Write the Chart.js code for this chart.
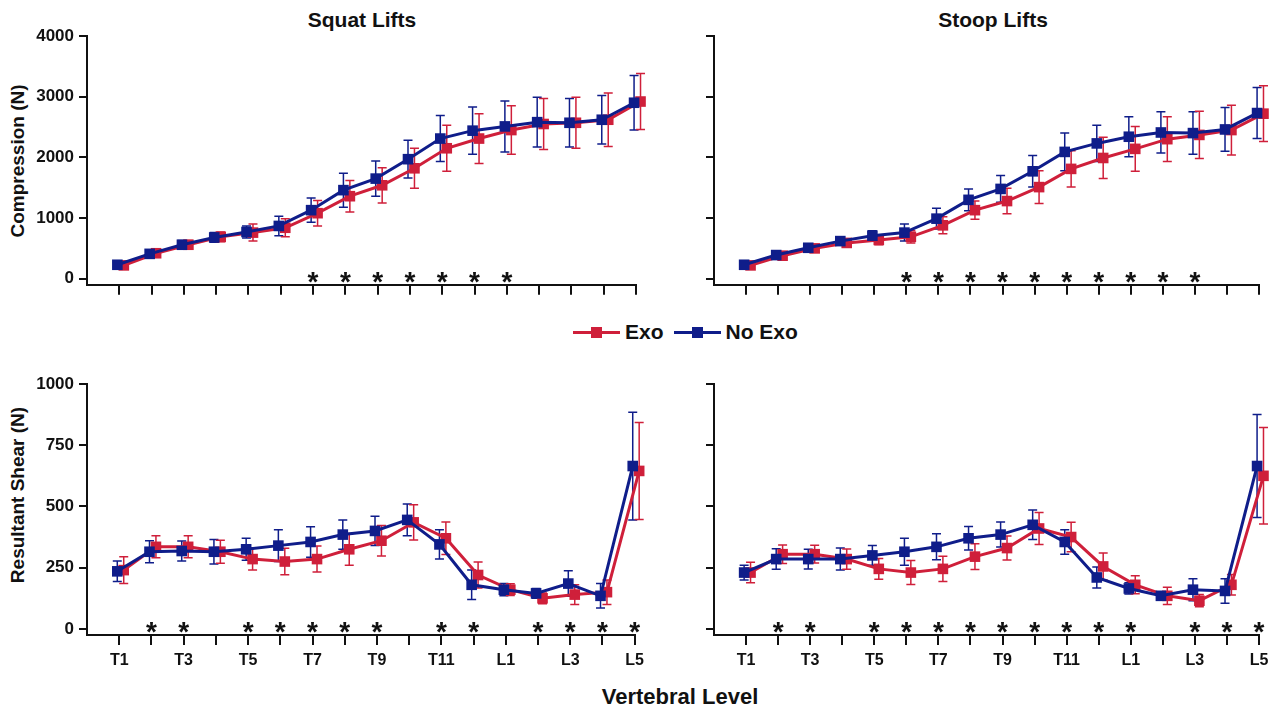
<!DOCTYPE html>
<html>
<head>
<meta charset="utf-8">
<script src="https://cdn.jsdelivr.net/npm/chart.js@4"></script>
<style>
  body { margin: 0; background: #fff; width: 1277px; height: 708px; position: relative; overflow: hidden;
         font-family: 'Liberation Sans', Arial, sans-serif; font-weight: bold; color: #111; }
  canvas { position: absolute; }
  .txt { position: absolute; white-space: nowrap; }
  .ytitle { position: absolute; white-space: nowrap; font-size: 19px; transform: translate(-50%, -50%) rotate(-90deg); }
  .legend { position: absolute; left: 573px; top: 320px; font-size: 21px; display: flex; align-items: center; }
  .mk { position: relative; display: inline-block; width: 47px; height: 3px; margin-right: 5px; }
  .mk i { position: absolute; left: 18px; top: -4px; width: 11px; height: 11px; }
</style>
</head>
<body>

<div class="txt" style="left:362px; top:20px; font-size:21px; transform:translate(-50%,-50%)">Squat Lifts</div>
<div class="txt" style="left:993px; top:20px; font-size:21px; transform:translate(-50%,-50%)">Stoop Lifts</div>
<div class="ytitle" style="left:18px; top:161px">Compression (N)</div>
<div class="ytitle" style="left:18px; top:495px">Resultant Shear (N)</div>
<div class="txt" style="left:680px; top:697px; font-size:22px; transform:translate(-50%,-50%)">Vertebral Level</div>

<div class="legend">
  <span class="mk" style="background:#cf1f3a"><i style="background:#cf1f3a"></i></span><span style="margin-right:10px">Exo</span>
  <span class="mk" style="background:#0f1d8a"><i style="background:#0f1d8a"></i></span><span>No Exo</span>
</div>

<canvas id="squatComp" width="650" height="300" style="left:0;top:0;width:650px;height:300px"></canvas>
<canvas id="stoopComp" width="627" height="300" style="left:650px;top:0;width:627px;height:300px"></canvas>
<canvas id="squatShear" width="650" height="340" style="left:0;top:340px;width:650px;height:340px"></canvas>
<canvas id="stoopShear" width="627" height="340" style="left:650px;top:340px;width:627px;height:340px"></canvas>

<script>
const levels = ['T1','T2','T3','T4','T5','T6','T7','T8','T9','T10','T11','T12','L1','L2','L3','L4','L5'];

const compTicks = [0, 1000, 2000, 3000, 4000];
const shearTicks = [0, 250, 500, 750, 1000];

// compression, squat
const squatCompExo = [220,420,560,690,760,840,1080,1360,1540,1820,2150,2310,2450,2550,2570,2620,2920];
const squatCompExoSD = [40,60,70,80,140,150,210,260,290,330,380,410,400,420,420,440,460];
const squatCompNoExo = [230,410,560,680,770,870,1130,1460,1650,1970,2310,2440,2510,2580,2570,2620,2900];
const squatCompNoExoSD = [40,60,70,80,100,160,200,280,290,310,380,390,420,410,400,400,450];

// compression, stoop
const stoopCompExo = [220,380,500,590,640,690,880,1130,1280,1510,1810,1990,2140,2300,2370,2450,2720];
const stoopCompExoSD = [40,50,60,70,80,100,140,150,210,270,300,340,370,370,390,410,460];
const stoopCompNoExo = [230,390,510,620,710,760,990,1300,1480,1770,2090,2230,2340,2410,2400,2460,2730];
const stoopCompNoExoSD = [40,50,60,70,80,140,170,180,220,260,310,300,330,340,350,360,420];

// resultant shear, squat
const squatShearExo = [240,335,335,315,285,275,285,325,360,435,370,220,160,125,140,150,645];
const squatShearExoSD = [55,45,45,47,45,54,53,65,62,72,66,53,24,22,40,50,198];
const squatShearNoExo = [235,315,318,315,325,340,355,385,400,445,345,180,160,145,185,135,665];
const squatShearNoExoSD = [42,45,41,50,45,65,62,60,60,65,60,60,25,20,52,50,220];

// resultant shear, stoop
const stoopShearExo = [230,305,305,285,245,230,245,295,330,410,375,255,180,135,115,180,625];
const stoopShearExoSD = [42,38,36,41,42,49,52,53,49,65,60,55,37,35,25,42,197];
const stoopShearNoExo = [230,285,285,285,300,315,335,370,385,425,355,210,165,135,160,155,665];
const stoopShearNoExoSD = [30,42,40,45,40,55,53,48,51,60,50,43,23,12,45,50,210];

// significant differences (asterisks)
const squatCompSig = ['T7','T8','T9','T10','T11','T12','L1'];
const stoopCompSig = ['T6','T7','T8','T9','T10','T11','T12','L1','L2','L3'];
const squatShearSig = ['T2','T3','T5','T6','T7','T8','T9','T11','T12','L2','L3','L4','L5'];
const stoopShearSig = ['T2','T3','T5','T6','T7','T8','T9','T10','T11','T12','L1','L3','L4','L5'];

const RED = '#cf1f3a';
const BLUE = '#0f1d8a';

Chart.defaults.font.family = "'Liberation Sans', Arial, sans-serif";
Chart.defaults.font.weight = 'bold';
Chart.defaults.color = '#111';

// vertical error bars with caps, drawn under the lines
const errorBars = {
  id: 'errorBars',
  beforeDatasetsDraw(chart) {
    const ctx = chart.ctx;
    const y = chart.scales.y;
    chart.data.datasets.forEach((ds, di) => {
      const meta = chart.getDatasetMeta(di);
      ctx.save();
      ctx.strokeStyle = ds.borderColor;
      ctx.lineWidth = 1.5;
      meta.data.forEach((pt, i) => {
        const v = ds.data[i].y, e = ds.errors[i];
        const top = y.getPixelForValue(v + e);
        const bot = y.getPixelForValue(v - e);
        ctx.beginPath();
        ctx.moveTo(pt.x, top); ctx.lineTo(pt.x, bot);
        ctx.moveTo(pt.x - 4.5, top); ctx.lineTo(pt.x + 4.5, top);
        ctx.moveTo(pt.x - 4.5, bot); ctx.lineTo(pt.x + 4.5, bot);
        ctx.stroke();
      });
      ctx.restore();
    });
  }
};

// asterisks just above the zero line
const sigMarks = {
  id: 'sigMarks',
  afterDraw(chart, args, opts) {
    const ctx = chart.ctx;
    const x = chart.scales.x, y = chart.scales.y;
    ctx.save();
    ctx.fillStyle = '#111';
    ctx.font = "bold 28px 'Liberation Sans', Arial, sans-serif";
    ctx.textAlign = 'center';
    ctx.textBaseline = 'alphabetic';
    (opts.levels || []).forEach(l => {
      const px = x.getPixelForValue(levels.indexOf(l));
      ctx.fillText('*', px, y.getPixelForValue(0) + 12);
    });
    ctx.restore();
  }
};

function series(vals, shift) {
  return vals.map((v, i) => ({ x: i + shift, y: v }));
}

function makePanel(id, p) {
  const yMin = -(p.yTicks[p.yTicks.length - 1] * 0.025);
  new Chart(document.getElementById(id), {
    type: 'line',
    data: {
      datasets: [
        {
          label: 'No Exo', data: series(p.noExo, -0.06), errors: p.noExoSD, order: 0,
          borderColor: BLUE, backgroundColor: BLUE, borderWidth: 3,
          pointStyle: 'rect', pointRadius: 7.5, pointBorderWidth: 0, clip: false
        },
        {
          label: 'Exo', data: series(p.exo, 0.14), errors: p.exoSD, order: 1,
          borderColor: RED, backgroundColor: RED, borderWidth: 3,
          pointStyle: 'rect', pointRadius: 7.5, pointBorderWidth: 0, clip: false
        }
      ]
    },
    options: {
      responsive: false,
      animation: false,
      events: [],
      layout: { padding: { top: p.padTop, right: p.padRight, left: 0, bottom: 0 } },
      scales: {
        x: {
          type: 'linear', min: -1, max: 16,
          afterBuildTicks: s => { s.ticks = levels.map((l, i) => ({ value: i })); },
          afterFit: s => { s.height = p.xHeight; },
          grid: { drawOnChartArea: false, color: '#111', lineWidth: 2, tickLength: 10 },
          border: { display: true, color: '#111', width: 2 },
          ticks: {
            autoSkip: false, maxRotation: 0, padding: 6,
            font: { size: 16, weight: 'bold' },
            callback: v => (p.xLabels && v % 2 === 0 ? levels[v] : '')
          }
        },
        y: {
          min: yMin, max: p.yTicks[p.yTicks.length - 1],
          afterBuildTicks: s => { s.ticks = p.yTicks.map(v => ({ value: v })); },
          afterFit: s => { s.width = p.yWidth; },
          grid: { drawOnChartArea: false, color: '#111', lineWidth: 2, tickLength: 8 },
          border: { display: true, color: '#111', width: 2 },
          ticks: {
            padding: 5,
            font: { size: 17, weight: 'bold' },
            callback: v => (p.yLabels ? String(v) : '')
          }
        }
      },
      plugins: {
        legend: { display: false },
        tooltip: { enabled: false },
        sigMarks: { levels: p.sig }
      }
    },
    plugins: [errorBars, sigMarks]
  });
}

makePanel('squatComp', {
  exo: squatCompExo, exoSD: squatCompExoSD, noExo: squatCompNoExo, noExoSD: squatCompNoExoSD,
  sig: squatCompSig, yTicks: compTicks, yLabels: true, xLabels: false,
  padTop: 36, padRight: 14, yWidth: 87, xHeight: 13
});
makePanel('stoopComp', {
  exo: stoopCompExo, exoSD: stoopCompExoSD, noExo: stoopCompNoExo, noExoSD: stoopCompNoExoSD,
  sig: stoopCompSig, yTicks: compTicks, yLabels: false, xLabels: false,
  padTop: 36, padRight: 18, yWidth: 64, xHeight: 13
});
makePanel('squatShear', {
  exo: squatShearExo, exoSD: squatShearExoSD, noExo: squatShearNoExo, noExoSD: squatShearNoExoSD,
  sig: squatShearSig, yTicks: shearTicks, yLabels: true, xLabels: true,
  padTop: 44, padRight: 14, yWidth: 87, xHeight: 45
});
makePanel('stoopShear', {
  exo: stoopShearExo, exoSD: stoopShearExoSD, noExo: stoopShearNoExo, noExoSD: stoopShearNoExoSD,
  sig: stoopShearSig, yTicks: shearTicks, yLabels: false, xLabels: true,
  padTop: 44, padRight: 18, yWidth: 64, xHeight: 45
});
</script>
</body>
</html>
